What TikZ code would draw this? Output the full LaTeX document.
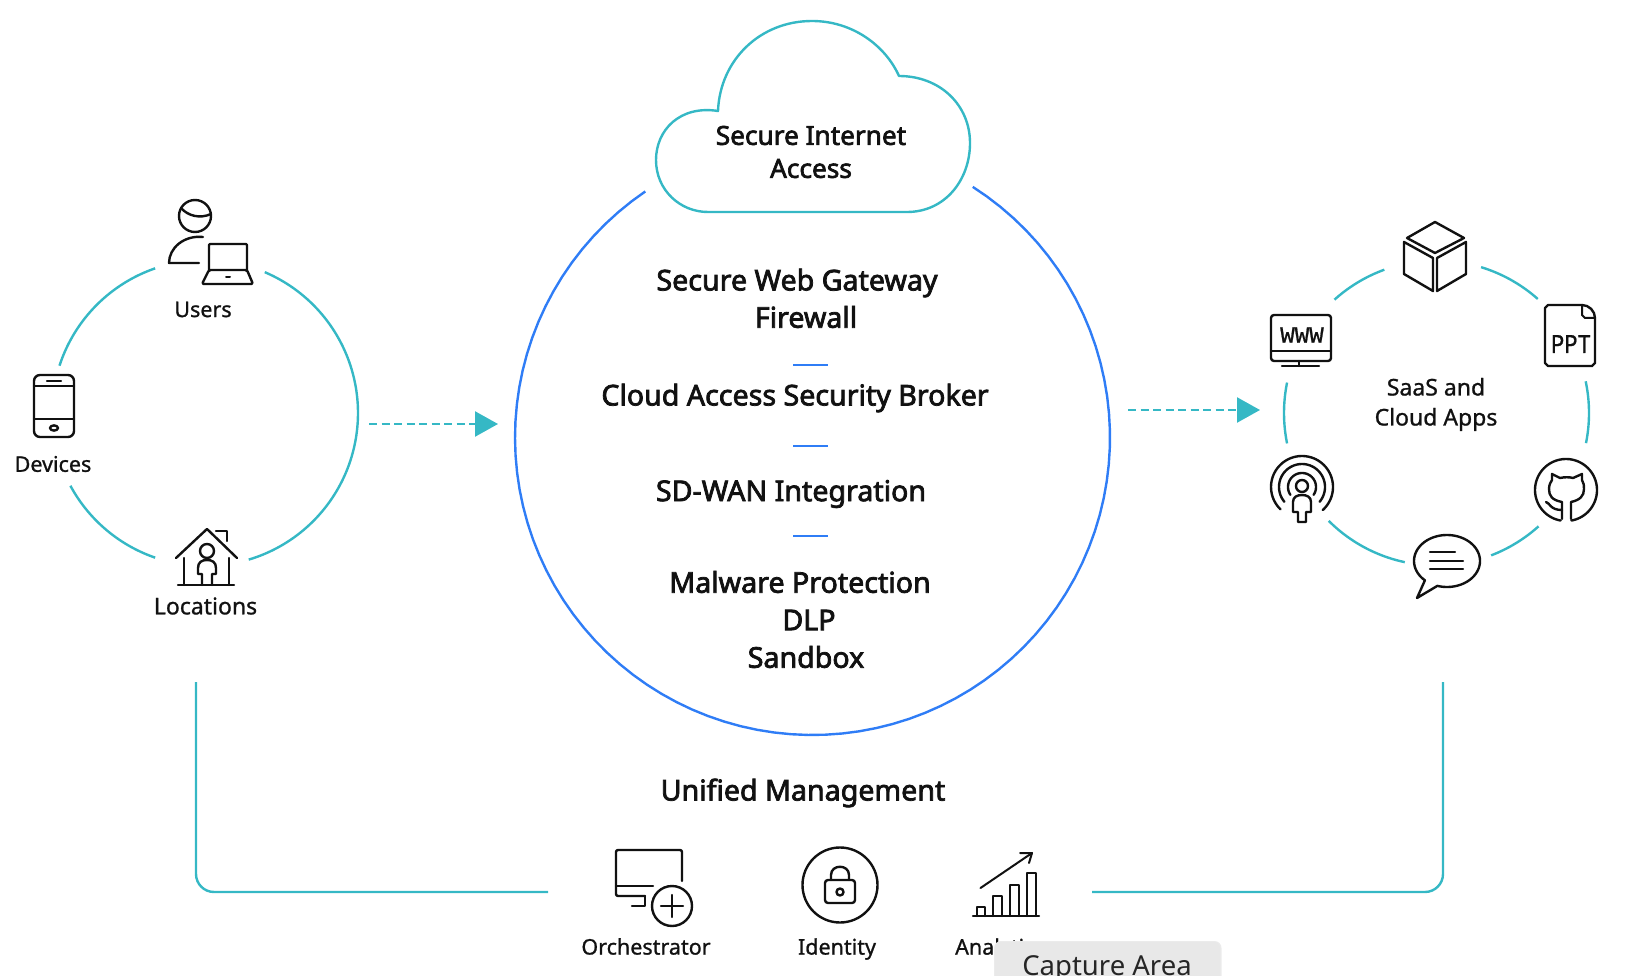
\documentclass[tikz,border=0pt]{standalone}
\usepackage{fontspec}
\usetikzlibrary{arrows.meta}
\setmainfont{Noto Sans}
\newfontfamily\medfont[FakeBold=2.6]{Noto Sans}
\newfontfamily\labfont[FakeBold=1.0]{Noto Sans}
\newfontfamily\pptfont[FakeBold=0.8]{Liberation Mono}
\definecolor{teal1}{HTML}{35B8C5}
\definecolor{blue1}{HTML}{2F7DF6}
\definecolor{ink}{HTML}{111111}
\newcommand{\ringarc}[5]{\draw[#5] plot[domain=#1:#2,samples=90] ({#3+#4*cos(\x)},{\ycoord+#4*sin(\x)});}
\tikzset{
  tealline/.style={draw=teal1,line width=2.4pt},
  blueline/.style={draw=blue1,line width=2.4pt},
  icon/.style={draw=ink,line width=2.4pt,line join=round,line cap=round},
  head/.style={font=\medfont\fontsize{28.6}{34}\selectfont,text=ink,inner sep=0pt,align=center},
  cloudhead/.style={font=\medfont\fontsize{26.2}{33}\selectfont,text=ink,inner sep=0pt,align=center},
  lab/.style={font=\labfont\fontsize{21.5}{26}\selectfont,text=ink,inner sep=0pt,align=center},
  labbig/.style={font=\labfont\fontsize{23}{30}\selectfont,text=ink,inner sep=0pt,align=center},
  dasharrow/.style={draw=teal1,line width=2.4pt,dash pattern=on 8pt off 4.5pt,-{Triangle[length=23pt,width=25pt,fill=teal1]}},
  divider/.style={draw=blue1,line width=2.4pt},
}
\begin{document}
\begin{tikzpicture}[x=1pt,y=-1pt]
\useasboundingbox (0,0) rectangle (1628,976);
% left ring
\def\ycoord{413}
\ringarc{-67}{73.4}{205}{153}{tealline}
\ringarc{-162}{-109}{205}{153}{tealline}
\ringarc{109}{151.6}{205}{153}{tealline}
% right ring
\ringarc{-132}{-110}{1436.5}{152.5}{tealline}
\ringarc{-73}{-48.4}{1436.5}{152.5}{tealline}
\ringarc{-12}{11.4}{1436.5}{152.5}{tealline}
\ringarc{168.5}{191.5}{1436.5}{152.5}{tealline}
\ringarc{48}{69}{1436.5}{152.5}{tealline}
\ringarc{102}{135}{1436.5}{152.5}{tealline}
% big ring
\def\ycoord{437.5}
\ringarc{-57.4}{235.8}{812.5}{297.5}{blueline}
% cloud
\draw[draw=teal1,line width=2.4pt,line join=round] (708,212) -- (907,212) .. controls (945,212) and (970,180) .. (970,143) .. controls (970,105) and (940,76) .. (899,76) .. controls (885,45) and (852,21) .. (812,21) .. controls (760,21) and (720,60) .. (718,111) .. controls (680,105) and (656,130) .. (656,160) .. controls (656,190) and (680,212) .. (708,212) -- cycle;
\node[cloudhead] (sia) at (811,152) {Secure Internet\\Access};
% centre text
\node[head] (swg) at (797,283) {Secure Web Gateway};
\node[head] (fw) at (806,317) {Firewall};
\node[head] (casb) at (795,398) {Cloud Access Security Broker};
\node[head] (sd) at (791,494) {SD-WAN Integration};
\node[head] (mw) at (800,582) {Malware Protection};
\node[head] (dlp) at (809,620) {DLP};
\node[head] (sb) at (806,657) {Sandbox};
\node[head] (um) at (803,793) {Unified Management};
\coordinate (d1a) at (793,365); \coordinate (d1b) at (828,365);
\coordinate (d2a) at (793,446); \coordinate (d2b) at (828,446);
\coordinate (d3a) at (793,536); \coordinate (d3b) at (828,536);
\draw[divider] (d1a) -- (d1b);
\draw[divider] (d2a) -- (d2b);
\draw[divider] (d3a) -- (d3b);
% arrows
\coordinate (a1s) at (369,424); \coordinate (a1e) at (498,424);
\coordinate (a2s) at (1128,410); \coordinate (a2e) at (1260,410);
\draw[dasharrow] (a1s) -- (a1e);
\draw[dasharrow] (a2s) -- (a2e);
% bracket
\coordinate (b1) at (196,682); \coordinate (b2) at (196,892); \coordinate (b3) at (548,892);
\coordinate (b4) at (1092,892); \coordinate (b5) at (1443,892); \coordinate (b6) at (1443,682);
\draw[tealline,rounded corners=18pt] (b1) -- (b2) -- (b3);
\draw[tealline,rounded corners=18pt] (b4) -- (b5) -- (b6);
% Users
\draw[icon] (195,216) circle (16);
\draw[icon] (181,208) .. controls (188,216) and (200,219) .. (211,214);
\draw[icon] (203,237) .. controls (184,235) and (169,248) .. (169,263) -- (199,263);
\draw[icon,rounded corners=1pt] (209,270) -- (209,244) -- (247,244) -- (247,270);
\draw[icon,rounded corners=1.5pt] (209,270) -- (202,284) -- (253,284) -- (247,270) -- cycle;
\draw[icon,line width=2pt] (226,277) -- (230,277);
\node[lab] (users) at (203,309.5) {Users};
% Devices
\draw[icon,rounded corners=6pt] (34,375) rectangle (74,437);
\draw[icon] (34,386) -- (74,386);
\draw[icon] (34,419) -- (74,419);
\draw[icon] (47,381) -- (61,381);
\draw[icon] (54,428) ellipse (4 and 2.6);
\node[lab] (devices) at (53,464) {Devices};
% Locations
\draw[icon] (176,558) -- (207,529) -- (237,558);
\draw[icon] (216,531) -- (227,531) -- (227,541);
\draw[icon] (184,558) -- (184,585);
\draw[icon] (229,558) -- (229,585);
\draw[icon] (178,585) -- (234,585);
\draw[icon] (207,551) circle (7);
\draw[icon] (202,585) -- (202,574) -- (198,574) -- (198,568) .. controls (198,562) and (202,560) .. (207,560) .. controls (212,560) and (216,562) .. (216,568) -- (216,574) -- (212,574) -- (212,585);
\node[labbig] (loc) at (205.5,606) {Locations};
% Cube
\draw[icon] (1435,222) -- (1464,238) -- (1435,253) -- (1407,238) -- cycle;
\draw[icon] (1404,242) -- (1433,258) -- (1433,291) -- (1404,274) -- cycle;
\draw[icon] (1466,242) -- (1437,258) -- (1437,291) -- (1466,274) -- cycle;
% PPT
\draw[icon] (1582,305) -- (1548,305) -- (1545,308) -- (1545,363) -- (1548,366) -- (1592,366) -- (1595,363) -- (1595,318) .. controls (1595,311) and (1589,305) .. (1582,305);
\draw[icon,line width=2pt] (1582,305) -- (1582,315) -- (1585,318) -- (1595,318);
\node[font=\pptfont\fontsize{27}{27}\selectfont,text=ink,inner sep=0pt,xscale=0.82,transform shape] (ppt) at (1571,344) {PPT};
% WWW
\draw[icon,rounded corners=3pt] (1271,315) rectangle (1331,361);
\draw[icon] (1271,351) -- (1331,351);
\draw[icon] (1299,361) -- (1299,366);
\draw[icon] (1282,366) -- (1319,366);
\node[font=\pptfont\fontsize{23}{23}\selectfont,text=ink,inner sep=0pt,xscale=1.05,transform shape] (www) at (1302,335) {WWW};
% Podcast
\draw[icon] plot[domain=134:408,samples=60] ({1302+31*cos(\x)},{487+31*sin(\x)});
\draw[icon] plot[domain=140:400,samples=60] ({1302+23*cos(\x)},{487+23*sin(\x)});
\draw[icon] plot[domain=146:394,samples=60] ({1302+14*cos(\x)},{487+14*sin(\x)});
\draw[icon] (1302,486) circle (6);
\draw[icon,fill=white] (1298,522) -- (1298,512) -- (1293,512) -- (1293,502) .. controls (1293,497) and (1297,495) .. (1302,495) .. controls (1307,495) and (1311,497) .. (1311,502) -- (1311,512) -- (1306,512) -- (1306,522) -- cycle;
% GitHub
\draw[icon] plot[domain=100:440,samples=80] ({1566+31*cos(\x)},{490+31*sin(\x)});
\draw[icon] (1562,519) -- (1562,502) .. controls (1552,500) and (1549,496) .. (1549,489) .. controls (1549,484) and (1551,482) .. (1552,480) -- (1552,474) -- (1560,478) .. controls (1564,477) and (1570,477) .. (1573,478) -- (1582,474) -- (1582,480) .. controls (1584,483) and (1584,486) .. (1584,489) .. controls (1584,496) and (1580,500) .. (1571,502) -- (1571,519);
\draw[icon] (1546,502) .. controls (1550,503) and (1550,510) .. (1562,510);
% Chat
\draw[icon] plot[domain=132:467,samples=90] ({1447+33*cos(\x)},{561+26*sin(\x)}) -- (1417,598) -- cycle;
\draw[icon] (1430,552) -- (1455,552);
\draw[icon] (1430,561) -- (1463,561);
\draw[icon] (1430,569) -- (1463,569);
\node[labbig] (saas) at (1436,404.5) {SaaS and\\Cloud Apps};
% Orchestrator
\draw[icon,rounded corners=2pt] (682,881) -- (682,850) -- (616,850) -- (616,896) -- (645,896);
\draw[icon] (616,886) -- (653,886);
\draw[icon] (645,896) -- (645,906) -- (632,906);
\draw[icon] (672,906) circle (20);
\draw[icon] (661,906) -- (683,906);
\draw[icon] (672,895) -- (672,917);
\node[lab] (orch) at (646,946.5) {Orchestrator};
% Identity
\draw[icon] (840,885) circle (37.5);
\draw[icon,rounded corners=3pt] (825,880) rectangle (855,903);
\draw[icon] (831,880) -- (831,875) .. controls (831,864) and (849,864) .. (849,875) -- (849,880);
\draw[icon] (840,892) circle (3.5);
\node[lab] (ident) at (837,949) {Identity};
% Analytics
\draw[icon] (973,916) -- (1039,916);
\draw[icon,line width=2pt] (976.5,916) -- (976.5,907) -- (985,907) -- (985,916);
\draw[icon,line width=2pt] (993,916) -- (993,896) -- (1002,896) -- (1002,916);
\draw[icon,line width=2pt] (1010,916) -- (1010,885) -- (1019,885) -- (1019,916);
\draw[icon,line width=2pt] (1027,916) -- (1027,873) -- (1036,873) -- (1036,916);
\draw[icon,line width=2pt] (980.5,888) -- (1032,853);
\draw[icon,line width=2pt] (1020,853) -- (1032,853) -- (1029,863);
\node[lab,anchor=west] (ana) at (955,949) {Analytics};
% capture box
\begin{scope}
\clip (900,900) rectangle (1300,976);
\fill[fill=black!8,rounded corners=7pt] (994,941) rectangle (1221.5,990);
\fill[fill=black!9,rounded corners=6pt] (995,942) rectangle (1220,990);
\end{scope}
\node[font=\fontsize{27.5}{30}\selectfont,text=black!85,inner sep=0pt] (cap) at (1107,969) {Capture Area};
\end{tikzpicture}
\end{document}
